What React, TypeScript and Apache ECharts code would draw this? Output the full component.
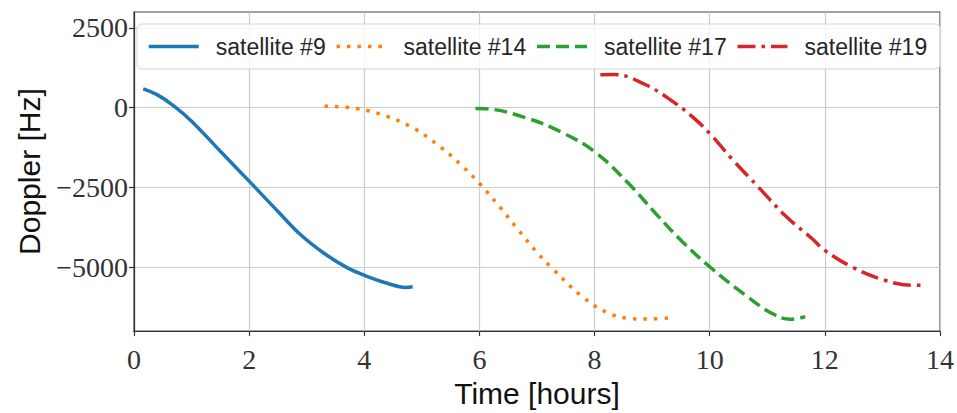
import React, { useEffect, useRef } from "react";
import * as echarts from "echarts";

const legendNames = ["satellite #9", "satellite #14", "satellite #17", "satellite #19"];
const seriesColors = ["#1f77b4", "#ff7f0e", "#2ca02c", "#d62728"];

const sat9Time = [0.16, 0.4, 0.69, 1.0, 1.5, 2.0, 2.5, 2.9, 3.3, 3.7, 4.0, 4.4, 4.72, 4.84];
const sat9Doppler = [592, 410, 60, -420, -1364, -2300, -3250, -3990, -4560, -5010, -5250, -5500, -5630, -5610];

const sat14Time = [3.31, 3.86, 4.38, 4.87, 5.3, 5.71, 6.0, 6.34, 6.66, 7.02, 7.27, 7.79, 8.25, 8.6, 8.94, 9.32];
const sat14Doppler = [50, -22, -262, -655, -1197, -1840, -2370, -3080, -3795, -4574, -5042, -5925, -6445, -6601, -6623, -6580];

const sat17Time = [5.93, 6.11, 6.8, 7.44, 8.02, 8.6, 9.06, 9.52, 10.01, 10.62, 11.08, 11.4, 11.66];
const sat17Doppler = [-22, -31, -312, -780, -1403, -2392, -3310, -4190, -5000, -5873, -6445, -6632, -6548];

const sat19Time = [8.1, 8.35, 8.88, 9.35, 9.75, 10.04, 10.39, 10.85, 11.31, 11.78, 12.0, 12.47, 13.04, 13.51, 13.71];
const sat19Doppler = [1030, 1040, 727, 206, -365, -886, -1612, -2495, -3380, -4107, -4471, -4989, -5407, -5563, -5563];

const yTicks = [-5000, -2500, 0, 2500];

const times = [sat9Time, sat14Time, sat17Time, sat19Time];
const dopplers = [sat9Doppler, sat14Doppler, sat17Doppler, sat19Doppler];
const dashTypes: any[] = ["solid", [3.5, 7], [13, 6], [18, 6, 3.5, 6]];

export default function App() {
  const ref = useRef<HTMLDivElement>(null);
  useEffect(() => {
    document.body.style.margin = "0";
    const chart = echarts.init(ref.current!, undefined, { renderer: "svg" });
    const serif = "Liberation Serif";
    const sans = "Liberation Sans";
    chart.setOption({
      animation: false,
      backgroundColor: "#ffffff",
      grid: {
        left: 134,
        right: 15,
        top: 12,
        bottom: 80,
        show: true,
        borderColor: "#444",
        borderWidth: 1.2,
        backgroundColor: "transparent",
      },
      legend: {
        data: legendNames,
        left: 137,
        top: 24,
        itemWidth: 50,
        itemHeight: 14,
        itemGap: 9,
        padding: [11, 13, 11, 10],
        backgroundColor: "rgba(255,255,255,0.8)",
        borderColor: "#d4d4d4",
        borderWidth: 1,
        borderRadius: 5,
        itemStyle: { opacity: 0, borderWidth: 0 },
        lineStyle: { width: 3.5 },
        textStyle: {
          fontFamily: sans,
          fontSize: 23,
          color: "#262626",
          padding: [0, 0, 0, 12],
        },
      },
      xAxis: {
        type: "value",
        min: 0,
        max: 14,
        interval: 2,
        name: "Time [hours]",
        nameLocation: "middle",
        nameGap: 46,
        nameTextStyle: { fontFamily: sans, fontSize: 30, color: "#111" },
        axisLine: { show: true, onZero: false, lineStyle: { color: "#333", width: 1.2 } },
        axisTick: { show: true, length: 5, lineStyle: { color: "#333", width: 1.2 } },
        axisLabel: { fontFamily: serif, fontSize: 28, color: "#333", margin: 14 },
        splitLine: { show: true, lineStyle: { color: "#cccccc", width: 1.2 } },
      },
      yAxis: {
        type: "value",
        min: -7000,
        max: 3000,
        name: "Doppler [Hz]",
        nameLocation: "middle",
        nameRotate: 90,
        nameGap: 90,
        nameTextStyle: { fontFamily: sans, fontSize: 30, color: "#111" },
        axisLine: { show: true, onZero: false, lineStyle: { color: "#333", width: 1.2 } },
        axisTick: { show: true, length: 5, customValues: yTicks, lineStyle: { color: "#333", width: 1.2 } },
        axisLabel: {
          customValues: yTicks,
          fontFamily: serif,
          fontSize: 28,
          color: "#333",
          margin: 6,
          formatter: (v: number) => (v < 0 ? "\u2212" + Math.abs(v) : String(v)),
        },
        splitLine: { show: true, lineStyle: { color: "#cccccc", width: 1.2 } },
      },
      series: legendNames.map((name, i) => ({
        name,
        type: "line",
        data: times[i].map((t, j) => [t, dopplers[i][j]]),
        showSymbol: false,
        symbol: "none",
        smooth: 0.4,
        color: seriesColors[i],
        lineStyle: { color: seriesColors[i], width: 3.5, type: dashTypes[i], cap: "butt" },
      })),
    });
    return () => chart.dispose();
  }, []);
  return <div ref={ref} style={{ width: 957, height: 413 }} />;
}
